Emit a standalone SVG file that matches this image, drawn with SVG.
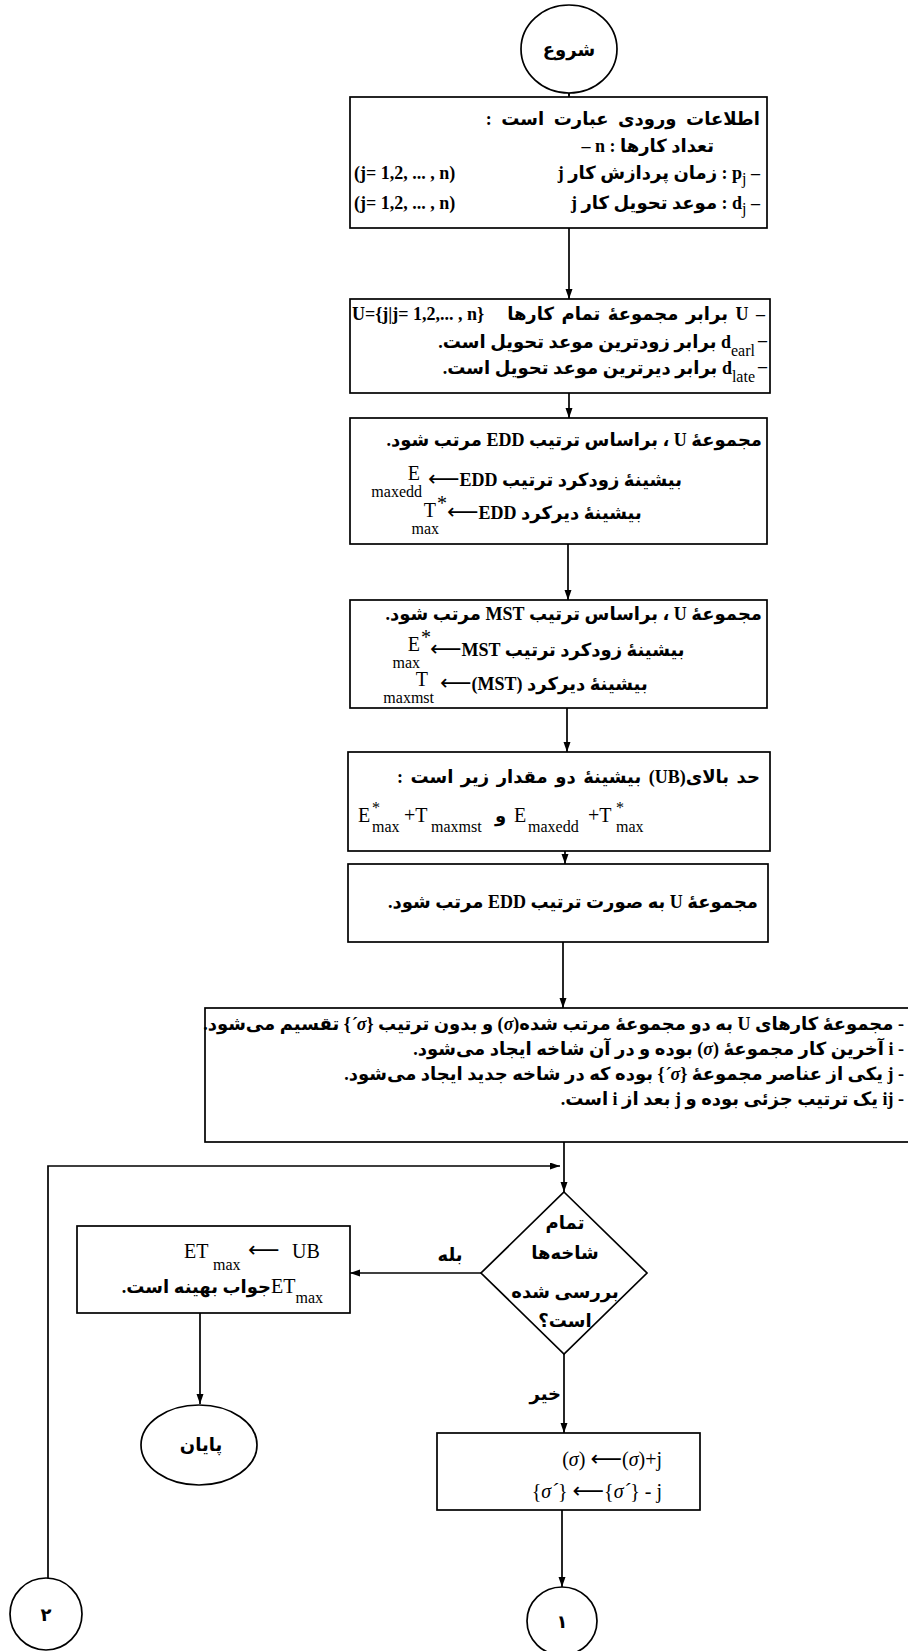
<svg xmlns="http://www.w3.org/2000/svg" width="908" height="1651" viewBox="0 0 908 1651">
<defs>
<style>
.bx{fill:#fff;stroke:#000;stroke-width:1.7}
.ln{fill:none;stroke:#000;stroke-width:1.7}
.fa{font-family:'Liberation Serif','DejaVu Sans',serif;font-weight:bold;font-size:18px;fill:#000}
.rt{direction:rtl;unicode-bidi:embed;text-anchor:start}
.mid{text-anchor:middle}
.la{font-family:'Liberation Serif','DejaVu Sans',serif;font-size:20px;fill:#000}
.sb{font-family:'Liberation Serif',serif;font-size:16px;font-weight:normal;fill:#000}
.ar{font-family:'DejaVu Sans',sans-serif;font-size:22px;font-weight:normal;fill:#000}
</style>
<marker id="ah" markerWidth="11" markerHeight="8" refX="10" refY="3.5" orient="auto" markerUnits="userSpaceOnUse"><path d="M0,0 L10,3.5 L0,7 z" fill="#000"/></marker>
</defs>
<rect width="908" height="1651" fill="#fff"/>

<g id="connectors" class="ln">
<path d="M569,92 V97" marker-end="url(#ah)"/>
<path d="M569,228 V299" marker-end="url(#ah)"/>
<path d="M569,393 V418" marker-end="url(#ah)"/>
<path d="M568,544 V600" marker-end="url(#ah)"/>
<path d="M567,708 V752" marker-end="url(#ah)"/>
<path d="M565,851 V864" marker-end="url(#ah)"/>
<path d="M563,942 V1008" marker-end="url(#ah)"/>
<path d="M564,1142 V1192" marker-end="url(#ah)"/>
<path d="M48,1579 V1166 H560" marker-end="url(#ah)"/>
<path d="M481,1273 H350" marker-end="url(#ah)"/>
<path d="M200,1313 V1404" marker-end="url(#ah)"/>
<path d="M564,1354 V1433" marker-end="url(#ah)"/>
<path d="M562,1510 V1587" marker-end="url(#ah)"/>
</g>

<g id="start">
<ellipse class="bx" cx="569" cy="49" rx="48" ry="44"/>
<text class="fa mid" x="569" y="56">شروع</text>
</g>

<g id="input">
<rect class="bx" x="350" y="97" width="417" height="131"/>
<text class="fa rt" x="760" y="125" font-size="19" word-spacing="5">اطلاعات ورودی عبارت است :</text>
<text class="fa rt" x="714" y="152">تعداد کارها : n –</text>
<text class="fa" x="354" y="179">(j= 1,2, ... , n)</text>
<text class="fa rt" x="760" y="179">– p<tspan class="sb" font-weight="bold" baseline-shift="-5">j</tspan> : زمان پردازش کار j</text>
<text class="fa" x="354" y="209">(j= 1,2, ... , n)</text>
<text class="fa rt" x="760" y="209">– d<tspan class="sb" font-weight="bold" baseline-shift="-5">j</tspan> : موعد تحویل کار j</text>
</g>

<g id="init">
<rect class="bx" x="350" y="299" width="420" height="94"/>
<text class="fa" x="352" y="320" font-size="19">U={j|j= 1,2,... , n}</text>
<text class="fa rt" x="765" y="320" word-spacing="3">– U برابر مجموعهٔ تمام کارها</text>
<text class="fa" x="767" y="346" text-anchor="end">–</text>
<text class="fa rt" x="755" y="348">d<tspan class="sb" baseline-shift="-8">earl</tspan> برابر زودترین موعد تحویل است.</text>
<text class="fa" x="767" y="372" text-anchor="end">–</text>
<text class="fa rt" x="755" y="374">d<tspan class="sb" baseline-shift="-8">late</tspan> برابر دیرترین موعد تحویل است.</text>
</g>

<g id="edd">
<rect class="bx" x="350" y="418" width="417" height="126"/>
<text class="fa rt" x="762" y="446">مجموعهٔ U ، براساس ترتیب EDD مرتب شود.</text>
<text class="la" x="420" y="480" text-anchor="end">E</text>
<text class="sb" x="422" y="497" text-anchor="end">maxedd</text>
<text class="fa" x="428" y="486"><tspan class="ar">⟵</tspan>EDD بیشینهٔ زودکرد ترتیب</text>
<text class="la" x="436" y="517" text-anchor="end">T</text>
<text class="la" x="437" y="510">*</text>
<text class="sb" x="439" y="534" text-anchor="end">max</text>
<text class="fa" x="447" y="519"><tspan class="ar">⟵</tspan>EDD بیشینهٔ دیرکرد</text>
</g>

<g id="mst">
<rect class="bx" x="350" y="600" width="417" height="108"/>
<text class="fa rt" x="762" y="620">مجموعهٔ U ، براساس ترتیب MST مرتب شود.</text>
<text class="la" x="420" y="651" text-anchor="end">E</text>
<text class="la" x="421" y="644">*</text>
<text class="sb" x="420" y="668" text-anchor="end">max</text>
<text class="fa" x="430" y="656"><tspan class="ar">⟵</tspan>MST بیشینهٔ زودکرد ترتیب</text>
<text class="la" x="428" y="686" text-anchor="end">T</text>
<text class="sb" x="434" y="703" text-anchor="end">maxmst</text>
<text class="fa" x="440" y="690"><tspan class="ar">⟵</tspan>(MST) بیشینهٔ دیرکرد</text>
</g>

<g id="ub">
<rect class="bx" x="348" y="752" width="422" height="99"/>
<text class="fa rt" x="760" y="783" word-spacing="3">حد بالای(UB) بیشینهٔ دو مقدار زیر است :</text>
<text class="la" font-size="22" y="822"><tspan x="358">E</tspan><tspan class="sb" font-size="18" x="372" dy="-9">*</tspan><tspan class="sb" font-size="18" x="372" dy="19">max</tspan><tspan x="404" dy="-10">+T</tspan><tspan class="sb" font-size="18" x="431" dy="10">maxmst</tspan><tspan x="495" dy="-10" font-family="'DejaVu Sans',sans-serif" font-size="18" font-weight="bold">و</tspan><tspan x="514">E</tspan><tspan class="sb" font-size="18" x="528" dy="10">maxedd</tspan><tspan x="588" dy="-10">+T</tspan><tspan class="sb" font-size="18" x="616" dy="-9">*</tspan><tspan class="sb" font-size="18" x="616" dy="19">max</tspan></text>
</g>

<g id="sort">
<rect class="bx" x="348" y="864" width="420" height="78"/>
<text class="fa rt" x="758" y="908">مجموعهٔ U به صورت ترتیب EDD مرتب شود.</text>
</g>

<g id="split">
<rect class="bx" x="205" y="1008" width="714" height="134"/>
<text class="fa rt" x="904" y="1030" font-size="17.5">- مجموعهٔ کارهای U به دو مجموعهٔ مرتب شده(<tspan font-style="italic">σ</tspan>) و بدون ترتیب {<tspan font-style="italic">σ´</tspan>} تقسیم می‌شود.</text>
<text class="fa rt" x="904" y="1055">- i آخرین کار مجموعهٔ (<tspan font-style="italic">σ</tspan>) بوده و در آن شاخه ایجاد می‌شود.</text>
<text class="fa rt" x="904" y="1080">- j یکی از عناصر مجموعهٔ {<tspan font-style="italic">σ´</tspan>} بوده که در شاخه جدید ایجاد می‌شود.</text>
<text class="fa rt" x="904" y="1105">- ij یک ترتیب جزئی بوده و j بعد از i است.</text>
</g>

<g id="decision">
<polygon class="bx" points="564,1192 647,1273 564,1354 481,1273"/>
<text class="fa mid" x="565" y="1229" font-size="17">تمام</text>
<text class="fa mid" x="565" y="1259" font-size="17">شاخه‌ها</text>
<text class="fa mid" x="565" y="1298" font-size="17">بررسی شده</text>
<text class="fa rt" x="565" y="1327" font-size="17" style="text-anchor:middle">است؟</text>
<text class="fa mid" x="450" y="1261" font-size="16">بله</text>
<text class="fa" x="561" y="1400" text-anchor="end" font-size="16">خیر</text>
</g>

<g id="result">
<rect class="bx" x="77" y="1226" width="273" height="87"/>
<text class="la" x="184" y="1258">ET</text>
<text class="sb" x="213" y="1270">max</text>
<text class="ar" x="248" y="1257">⟵</text>
<text class="la" x="292" y="1258">UB</text>
<text class="fa rt" x="323" y="1293"><tspan class="la" font-weight="normal">ET</tspan><tspan class="sb" baseline-shift="-10">max</tspan>جواب بهینه است.</text>
</g>

<g id="end">
<ellipse class="bx" cx="199" cy="1445" rx="58" ry="40"/>
<text class="fa mid" x="201" y="1451">پایان</text>
</g>

<g id="update">
<rect class="bx" x="437" y="1433" width="263" height="77"/>
<text class="la" x="662" y="1466" text-anchor="end" font-size="18">(<tspan font-style="italic">σ</tspan>) <tspan class="ar">⟵</tspan>(<tspan font-style="italic">σ</tspan>)+j</text>
<text class="la" x="662" y="1498" text-anchor="end" font-size="18">{<tspan font-style="italic">σ´</tspan>} <tspan class="ar">⟵</tspan>{<tspan font-style="italic">σ´</tspan>} - j</text>
</g>

<g id="conn1">
<ellipse class="bx" cx="562" cy="1621" rx="35" ry="34"/>
<text class="fa mid" x="562" y="1628">۱</text>
</g>

<g id="conn2">
<circle class="bx" cx="46" cy="1614" r="36"/>
<text class="fa mid" x="46" y="1621">۲</text>
</g>
</svg>
